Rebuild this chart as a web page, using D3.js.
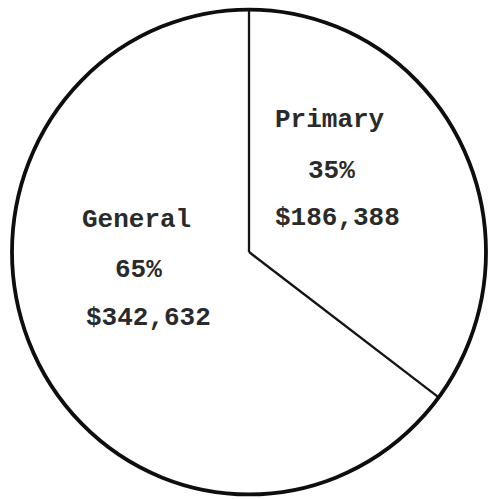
<!DOCTYPE html>
<html>
<head>
<meta charset="utf-8">
<script src="https://cdn.jsdelivr.net/npm/d3@7"></script>
<style>
  html, body { margin: 0; padding: 0; background: #fff; }
  svg { display: block; }
</style>
</head>
<body>
<div id="chart"></div>
<script>
// ---- data ----
const categories = ["Primary", "General"];
const values = [186388, 342632];
const percentLabels = ["35%", "65%"];
const amountLabels = ["$186,388", "$342,632"];

// ---- layout ----
const W = 488, H = 499;
const cx = 249, cy = 252, R = 237, yScale = 1.023;
// label line anchors (start x, baseline y), per category
const labelLayout = [
  { lines: [[275, 127], [308, 178], [275, 225]] },
  { lines: [[82, 227], [115, 277], [86, 325]] }
];

const svg = d3.select("#chart").append("svg")
  .attr("width", W).attr("height", H);

svg.append("rect").attr("width", W).attr("height", H).attr("fill", "#fff");

const pie = d3.pie().sort(null).value(d => d)
  .startAngle(0).endAngle(2 * Math.PI);
const arcs = pie(values);
const arc = d3.arc().innerRadius(0).outerRadius(R);

const g = svg.append("g")
  .attr("transform", `translate(${cx},${cy}) scale(1,${yScale})`);

g.selectAll("path.slice")
  .data(arcs)
  .enter().append("path")
  .attr("class", "slice")
  .attr("d", arc)
  .attr("fill", "#fff")
  .attr("stroke", "none");

// radial separator lines at slice boundaries
g.selectAll("line.sep")
  .data(arcs)
  .enter().append("line")
  .attr("class", "sep")
  .attr("x1", 0).attr("y1", 0)
  .attr("x2", d => R * Math.sin(d.startAngle))
  .attr("y2", d => -R * Math.cos(d.startAngle))
  .attr("stroke", "#141414")
  .attr("stroke-width", 2.3)
  .attr("vector-effect", "non-scaling-stroke");

// outer circle
g.append("circle")
  .attr("r", R)
  .attr("fill", "none")
  .attr("stroke", "#0e0e0e")
  .attr("stroke-width", 3.8)
  .attr("vector-effect", "non-scaling-stroke");

// labels
const fontFamily = "'Liberation Mono', 'DejaVu Sans Mono', monospace";
categories.forEach((cat, i) => {
  const texts = [cat, percentLabels[i], amountLabels[i]];
  texts.forEach((t, j) => {
    const [x, y] = labelLayout[i].lines[j];
    svg.append("text")
      .attr("x", x).attr("y", y)
      .attr("font-family", fontFamily)
      .attr("font-size", 26)
      .attr("font-weight", "bold")
      .attr("fill", "#2a2a2a")
      .text(t);
  });
});
</script>
</body>
</html>
